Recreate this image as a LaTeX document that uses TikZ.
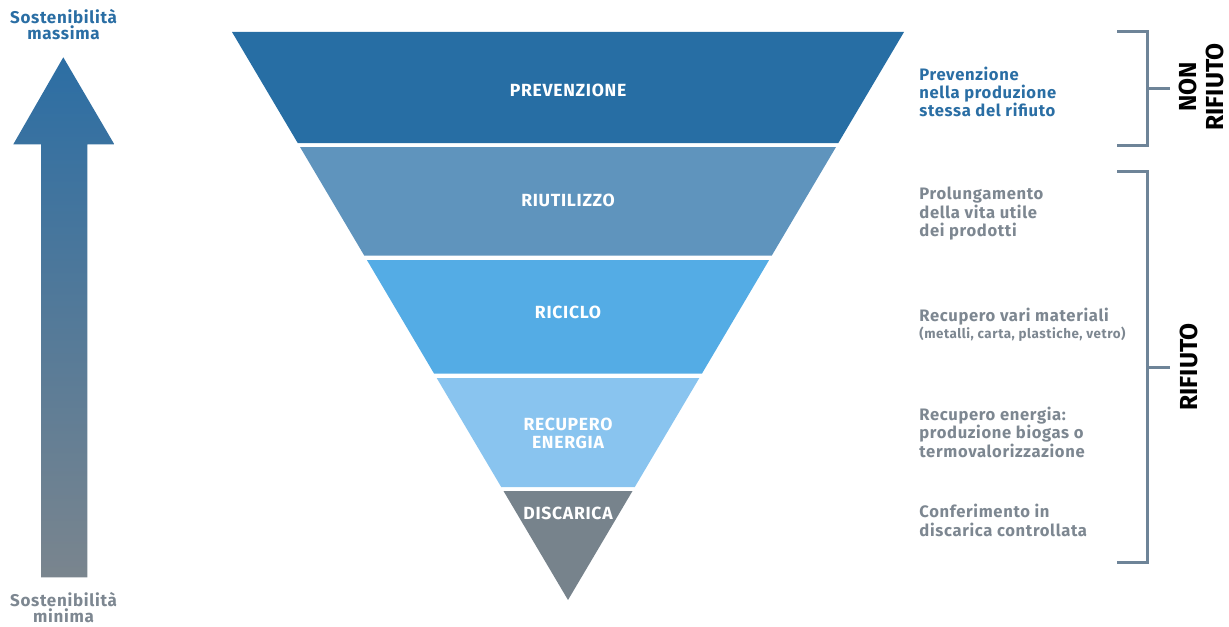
\documentclass[tikz,border=0pt]{standalone}
\usepackage{fontspec}
\setmainfont{Fira Sans}[LetterSpace=4]
\newfontfamily\sidefont{Fira Sans}
\usetikzlibrary{calc}
\definecolor{cPrev}{HTML}{276EA4}
\definecolor{cRiut}{HTML}{5F94BD}
\definecolor{cRic}{HTML}{54ACE5}
\definecolor{cRec}{HTML}{89C4EF}
\definecolor{cDisc}{HTML}{77838C}
\definecolor{txtblue}{HTML}{2A6EA4}
\definecolor{txtgrey}{HTML}{7D8791}
\definecolor{brk}{HTML}{6E8498}
\definecolor{arrtop}{HTML}{2C6EA4}
\definecolor{arrbot}{HTML}{7A858E}
\begin{document}
\begin{tikzpicture}[x=0.5pt,y=-0.5pt,
  band/.style={fill=#1, draw=none},
  blabel/.style={text=white, font=\bfseries\fontsize{8.8}{9.1}\selectfont, align=center, inner sep=0pt, anchor=base},
  rtext/.style={text=txtgrey, font=\bfseries\fontsize{8.3}{9.1}\selectfont, align=left, inner sep=0pt, anchor=base west},
  side/.style={font=\sidefont\bfseries\fontsize{12.3}{13.5}\selectfont, align=center, inner sep=0pt, rotate=90},
  sost/.style={font=\bfseries\fontsize{8.5}{6.4}\selectfont, align=center, inner sep=0pt, anchor=base},
  bracket/.style={draw=brk, line width=1.5pt}
]
\useasboundingbox (0,0) rectangle (1229,626);
% pyramid bands
\fill[band=cPrev] (232,32) -- (904,32) -- (838.3,143) -- (297.7,143) -- cycle;
\fill[band=cRiut] (300,147) -- (836,147) -- (771.8,255.5) -- (364.2,255.5) -- cycle;
\fill[band=cRic] (366.9,260) -- (769.1,260) -- (702,373.5) -- (434,373.5) -- cycle;
\fill[band=cRec] (436.7,378) -- (699.3,378) -- (634.8,487) -- (501.2,487) -- cycle;
\fill[band=cDisc] (503.5,491) -- (632.5,491) -- (568,600) -- cycle;
% band labels
\node[blabel] (lprev) at (568,96.7) {PREVENZIONE};
\node[blabel] (lriut) at (568,206.7) {RIUTILIZZO};
\node[blabel] (lric) at (568,318) {RICICLO};
\node[blabel] (lrec) at (568,448.5) {RECUPERO\\ENERGIA};
\node[blabel] (ldisc) at (568,519.3) {DISCARICA};
% arrow
\shade[top color=arrtop, bottom color=arrbot] (63.3,57.3) -- (114.3,144.3) -- (87.3,144.3) -- (87.3,577.3) -- (41,577.3) -- (41,144.3) -- (13.3,144.3) -- cycle;
\node[sost, text=txtblue] (smax) at (63.5,39.5) {Sostenibilità\\massima};
\node[sost, text=txtgrey] (smin) at (63.5,622.5) {Sostenibilità\\minima};
% right texts
\node[rtext, text=txtblue] (tprev) at (919,117) {Prevenzione\\nella produzione\\stessa del rifiuto};
\node[rtext] (triut) at (919,236.3) {Prolungamento\\della vita utile\\dei prodotti};
\node[rtext] (tric) at (919,321.7) {Recupero vari materiali};
\node[rtext, font=\bfseries\fontsize{6.7}{7}\selectfont] (tric2) at (919,338.3) {(metalli, carta, plastiche, vetro)};
\node[rtext] (trec) at (919,457) {Recupero energia:\\produzione biogas o\\termovalorizzazione};
\node[rtext] (tdisc) at (919,536) {Conferimento in\\discarica controllata};
% brackets
\draw[bracket] (1117,32) -- (1147,32) -- (1147,145.5) -- (1117,145.5);
\draw[bracket] (1147,88.5) -- (1170,88.5);
\draw[bracket] (1117,171) -- (1147,171) -- (1147,562.5) -- (1117,562.5);
\draw[bracket] (1147,367) -- (1170,367);
\node[side] (nonrif) at (1201.5,87) {NON\\RIFIUTO};
\node[side] (rif) at (1188.5,367) {RIFIUTO};
\end{tikzpicture}
\end{document}
